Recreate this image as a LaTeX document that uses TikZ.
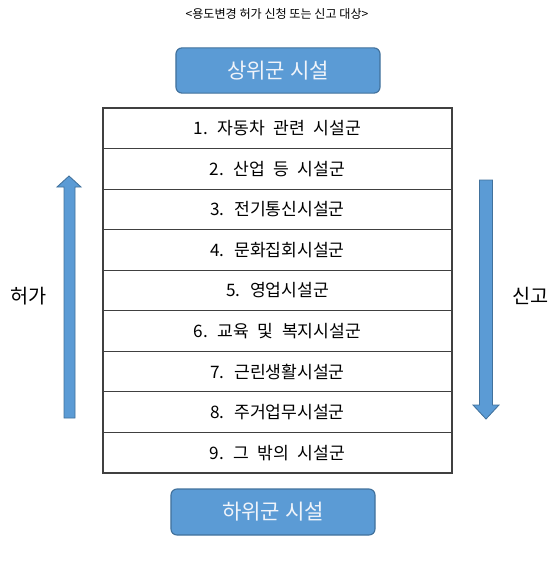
\documentclass[tikz,border=0pt]{standalone}
\usepackage{fontspec}
\setmainfont{Noto Sans CJK KR}
\newfontfamily\rowfont[WordSpace=2.2]{Noto Sans CJK KR}
\usetikzlibrary{positioning}
\definecolor{boxblue}{HTML}{5B9BD5}
\definecolor{boxedge}{HTML}{41719C}
\definecolor{gridline}{HTML}{404040}
\definecolor{lighttext}{HTML}{F0F4FA}

\begin{document}
\begin{tikzpicture}[x=0.025cm, y=-0.025cm,
    every node/.style={inner sep=0pt, outer sep=0pt},
    grp/.style={rectangle, rounded corners=4.3pt, draw=boxedge, line width=0.8pt,
                fill=boxblue, text=lighttext, minimum width=5.1cm, minimum height=1.13cm,
                font=\fontsize{15}{17}\selectfont},
    rowbox/.style={rectangle, draw=gridline, line width=0.8pt, minimum width=8.725cm,
                   minimum height=1.014cm, font=\rowfont\fontsize{12.2}{14}\selectfont},
    sidelbl/.style={font=\fontsize{14}{16}\selectfont},
    bigarr/.style={fill=boxblue, draw=boxedge, line width=0.6pt}
]
    \useasboundingbox (0,0) rectangle (559,562);
    \node[font=\fontsize{8.6}{10}\selectfont] (title) at (277,14) {<용도변경 허가 신청 또는 신고 대상>};
    \node[grp] (upper) at (278,70.5) {상위군 시설};
    % rows of the table
    \foreach \i/\txt in {1/{1. 자동차 관련 시설군}, 2/{2. 산업 등 시설군}, 3/{3. 전기통신시설군},
                         4/{4. 문화집회시설군}, 5/{5. 영업시설군}, 6/{6. 교육 및 복지시설군},
                         7/{7. 근린생활시설군}, 8/{8. 주거업무시설군}, 9/{9. 그 밖의 시설군}}
        \node[rowbox] (r\i) at (277.5,{108+40.55*\i-20.275}) {\txt};
    \node[grp, minimum height=1.15cm] (lower) at (273,512) {하위군 시설};
    % side arrows
    \draw[bigarr] (64,418) -- (64,187) -- (57,187) -- (69,176) -- (81,187)
        -- (75,187) -- (75,418) -- cycle;
    \draw[bigarr] (479.5,180) -- (479.5,405) -- (473,405) -- (486,419) -- (499,405)
        -- (492.5,405) -- (492.5,180) -- cycle;
    \node[sidelbl] (permit) at (29,296) {허가};
    \node[sidelbl] (report) at (531,296) {신고};
\end{tikzpicture}
\end{document}
